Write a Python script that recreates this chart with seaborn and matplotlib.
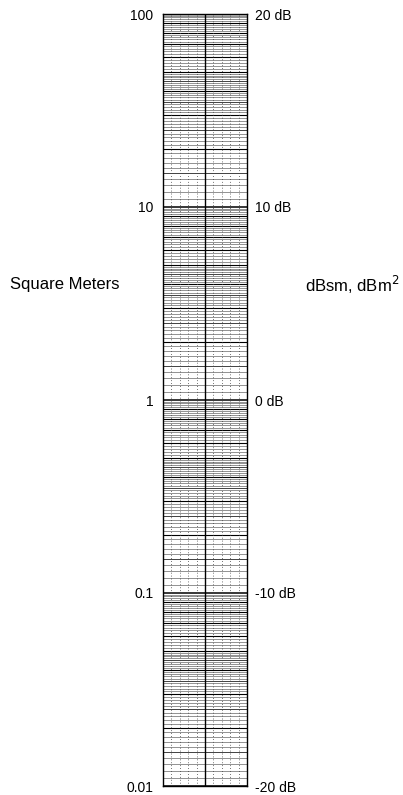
import numpy as np
import matplotlib
matplotlib.use("Agg")
import matplotlib.pyplot as plt
import seaborn as sns

# Scale data
sqm_ticks = [0.01, 0.1, 1, 10, 100]
sqm_labels = ["0.01", "0.1", "1", "10", "100"]
db_ticks = [-20, -10, 0, 10, 20]
db_labels = ["-20 dB", "-10 dB", "0 dB", "10 dB", "20 dB"]
decades = [0.01, 0.1, 1, 10]
# graduation segments within a decade: (start, stop, step) in mantissa units
segments = [(1.0, 2.0, 0.1), (2.0, 5.0, 0.1), (5.0, 10.0, 0.2)]
n_vertical = 10

sns.set_style("white")
plt.rcParams['font.family'] = ['Liberation Sans', 'DejaVu Sans']
plt.rcParams['text.color'] = 'black'
plt.rcParams['ytick.color'] = 'black'

fig = plt.figure(figsize=(4.03, 7.95), dpi=100)
top, bot = 14, 786
ax = fig.add_axes([163/403, 1-bot/795, (247-163)/403, (bot-top)/795])
ax.set_yscale("log")
ax.set_ylim(0.01, 100)
ax.set_xlim(0, n_vertical)

# horizontal graduations
for d in decades:
    for (a, b, s) in segments:
        n = int(round((b - a) / s))
        for i in range(n):
            m = a + i * s
            v = d * m
            if abs(m - round(m)) < 1e-9:
                lw, col = (1.1, "black") if abs(m - 1) < 1e-9 else (0.8, "black")
            elif abs(m * 2 - round(m * 2)) < 1e-9:
                lw, col = 0.6, "#222222"
            else:
                lw, col = 0.45, "#555555"
            ax.axhline(v, color=col, lw=lw, zorder=1)
ax.axhline(100, color="black", lw=1.0)

# vertical lines
for k in range(1, n_vertical):
    if k == n_vertical // 2:
        ax.axvline(k, color="black", lw=1.0, zorder=2)
    else:
        ax.axvline(k, color="#444444", lw=0.6, ls=(0, (1, 2.5)), zorder=2)

for sp in ax.spines.values():
    sp.set_color("black")
    sp.set_linewidth(1.0)

ax.set_xticks([])
ax.set_yticks(sqm_ticks)
ax.set_yticklabels(sqm_labels, fontsize=10)
ax.yaxis.set_minor_locator(matplotlib.ticker.NullLocator())
ax.tick_params(axis="y", length=0, pad=7, colors="black")

ax2 = ax.twinx()
ax2.set_ylim(-20, 20)
ax2.set_yticks(db_ticks)
ax2.set_yticklabels(db_labels, fontsize=10)
ax2.tick_params(axis="y", length=0, pad=6, colors="black")
for sp in ax2.spines.values():
    sp.set_visible(False)

fig.text(10/403, 1-285/795, "Square Meters", fontsize=12, va="center", ha="left", color="black")
fig.text(305/403, 1-285/795, "dBsm, dBm$^{\\mathsf{2}}$", fontsize=12, va="center", ha="left", color="black")

fig.savefig("out.png", dpi=100)
